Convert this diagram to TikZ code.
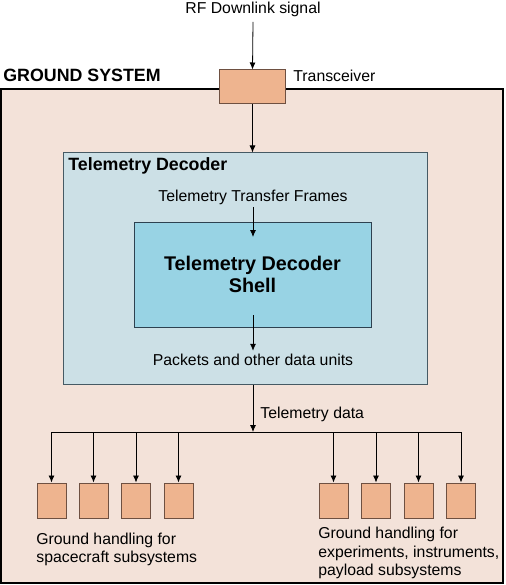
\documentclass[tikz,border=0pt]{standalone}
\usepackage{fontspec}
\setmainfont{Liberation Sans}
\usepackage{tikz}
\usetikzlibrary{positioning,shapes,arrows.meta}

\definecolor{gsfill}{RGB}{243,226,217}
\definecolor{boxfill}{RGB}{238,180,143}
\definecolor{boxline}{RGB}{110,80,65}
\definecolor{decfill}{RGB}{204,224,230}
\definecolor{decline}{RGB}{70,90,100}
\definecolor{shellfill}{RGB}{152,211,228}
\definecolor{shellline}{RGB}{45,65,80}

\begin{document}
\begin{tikzpicture}
            [x=1pt,y=-1pt,>={Latex[length=7pt,width=6pt]},line width=0.8pt,
             every node/.style={inner sep=0pt, font=\fontsize{15.8}{18.5}\selectfont},
             gsbox/.style={draw=black, line width=2.5pt, fill=gsfill, minimum width=502pt, minimum height=494pt},
             hbox/.style={draw=boxline, line width=1pt, fill=boxfill, minimum width=29pt, minimum height=35pt},
             decbox/.style={draw=decline, line width=1pt, fill=decfill, minimum width=364pt, minimum height=231pt},
             shellbox/.style={draw=shellline, line width=1pt, fill=shellfill, minimum width=237pt, minimum height=105pt, align=center, font=\fontsize{19.8}{22}\selectfont\bfseries},
             title/.style={anchor=west, font=\fontsize{17.8}{20}\selectfont\bfseries}]
          \useasboundingbox (0,0) rectangle (505,585);

          \node[gsbox] (gs) at (252,336) {};
          \node[title] (gst) at (3,75) {GROUND SYSTEM};

          \node (rf) at (253,9) {RF Downlink signal};
          \node[hbox, minimum width=66pt, minimum height=34pt] (trx) at (252.5,87) {};
          \node[anchor=west] (trxl) at (293,76) {Transceiver};

          \node[decbox] (dec) at (245,268.5) {};
          \node[title] (dect) at (68,166) {Telemetry Decoder};
          \node (tf) at (253,197) {Telemetry Transfer Frames};
          \node[shellbox] (shell) at (252.5,274.5) {Telemetry Decoder\\Shell};
          \node (pk) at (253,360) {Packets and other data units};
          \coordinate (shin) at (253,237);
          \coordinate (shout) at (253,315);

          \coordinate (bus) at (253,432);
          \node[anchor=west] (tmd) at (260,414) {Telemetry data};

          \foreach \n/\x in {h1/51.5, h2/93.5, h3/136, h4/178.5, h5/333.5, h6/376, h7/418.5, h8/461}
            \node[hbox] (\n) at (\x,500.5) {};

          \node[anchor=west, align=left] (sch) at (36,549.5) {Ground handling for\\spacecraft subsystems};
          \node[anchor=west, align=left] (exh) at (318,553) {Ground handling for\\experiments, instruments,\\payload subsystems};

          \draw[->] ([yshift=-5pt]rf.south) -- (trx.north);
          \draw[->] (trx.south) -- (dec.north -| trx.south);
          \draw[->] ([yshift=-2pt]tf.south) -- (shin);
          \draw[->] (shout) -- ([yshift=3pt]pk.north);
          \draw[->] (dec.south -| bus) -- (bus);
          \draw (h1.north |- bus) -- (h8.north |- bus);

          \foreach \n in {h1,h2,h3,h4,h5,h6,h7,h8}
            \draw (\n.north |- bus) edge[->] (\n.north);
        \end{tikzpicture}
\end{document}
